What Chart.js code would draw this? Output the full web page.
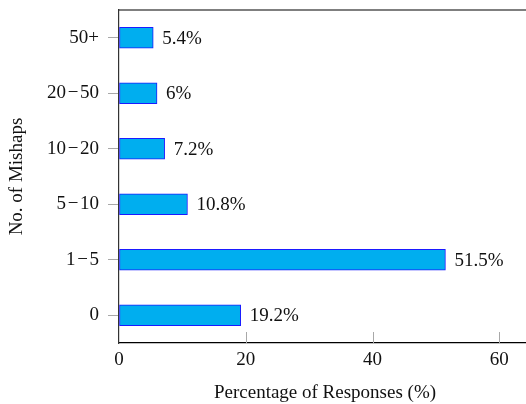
<!DOCTYPE html>
<html>
<head>
<meta charset="utf-8">
<script src="https://cdn.jsdelivr.net/npm/chart.js@4"></script>
<style>
  html, body { margin: 0; padding: 0; background: #fff; overflow: hidden; }
  #wrap { width: 526px; height: 404px; overflow: hidden; position: relative; }
  canvas { display: block; }
</style>
</head>
<body>
<div id="wrap"><canvas id="chart" width="531" height="404"></canvas></div>
<script>
// Survey responses: number of mishaps reported
const categories = ['0', '1\u200A\u2212\u200A5', '5\u200A\u2212\u200A10', '10\u200A\u2212\u200A20', '20\u200A\u2212\u200A50', '50+'];
const percentages = [19.2, 51.5, 10.8, 7.2, 6, 5.4];
const xTickValues = [0, 20, 40, 60];

const FONT = '"Liberation Serif", "Times New Roman", Times, serif';

// Small inward tick marks on the x axis plus the top frame line
const frameTicks = {
  id: 'frameTicks',
  afterDraw(chart) {
    const { ctx, chartArea, scales } = chart;
    const x = scales.x;
    ctx.save();
    ctx.strokeStyle = '#a8a8a8';
    ctx.lineWidth = 1;
    xTickValues.forEach(v => {
      if (v === 0) return;
      const px = Math.round(x.getPixelForValue(v)) + 0.5;
      ctx.beginPath();
      ctx.moveTo(px, chartArea.bottom);
      ctx.lineTo(px, chartArea.bottom - 11);
      ctx.stroke();
    });
    ctx.strokeStyle = '#000';
    ctx.lineWidth = 1.2;
    ctx.beginPath();
    ctx.moveTo(chartArea.left, chartArea.top);
    ctx.lineTo(chartArea.right + 5, chartArea.top);
    ctx.stroke();
    ctx.restore();
  }
};

// Percentage labels placed just past the end of each bar
const valueLabels = {
  id: 'valueLabels',
  afterDatasetsDraw(chart) {
    const { ctx } = chart;
    const meta = chart.getDatasetMeta(0);
    ctx.save();
    ctx.font = '19px ' + FONT;
    ctx.fillStyle = '#111';
    ctx.textAlign = 'left';
    ctx.textBaseline = 'middle';
    meta.data.forEach((bar, i) => {
      ctx.fillText(percentages[i] + '%', bar.x + 9, bar.y + 1);
    });
    ctx.restore();
  }
};

new Chart(document.getElementById('chart'), {
  type: 'bar',
  data: {
    labels: categories,
    datasets: [{
      data: percentages,
      backgroundColor: '#00AEEF',
      borderColor: '#1a1aff',
      borderWidth: 1,
      borderSkipped: false,
      barThickness: 21
    }]
  },
  options: {
    indexAxis: 'y',
    responsive: false,
    animation: false,
    layout: { padding: { top: 10, right: 0, left: 0, bottom: 0 } },
    plugins: {
      legend: { display: false },
      tooltip: { enabled: false }
    },
    scales: {
      x: {
        type: 'linear',
        min: 0,
        max: 65,
        afterBuildTicks(axis) {
          axis.ticks = xTickValues.map(v => ({ value: v }));
        },
        afterFit(axis) {
          axis.height = 61;
          axis.paddingLeft = 0;
          axis.paddingRight = 0;
        },
        grid: { drawOnChartArea: false, drawTicks: false },
        border: { display: true, color: '#000', width: 1.2 },
        ticks: {
          padding: 6,
          color: '#111',
          font: { family: FONT, size: 19 },
          maxRotation: 0
        },
        title: {
          display: true,
          text: 'Percentage of Responses (%)',
          color: '#111',
          font: { family: FONT, size: 19 },
          padding: { top: 8, bottom: 0 }
        }
      },
      y: {
        type: 'category',
        reverse: true,
        offset: true,
        afterFit(axis) {
          axis.width = 119;
          axis.paddingTop = 0;
          axis.paddingBottom = 0;
        },
        grid: {
          offset: false,
          drawOnChartArea: false,
          drawTicks: true,
          tickLength: 11,
          tickColor: '#a8a8a8',
          tickWidth: 1
        },
        border: { display: true, color: '#333', width: 1.2 },
        ticks: {
          padding: 9,
          color: '#111',
          font: { family: FONT, size: 19 }
        },
        title: {
          display: true,
          text: 'No. of Mishaps',
          color: '#111',
          font: { family: FONT, size: 19 },
          padding: { top: 6, bottom: 0 }
        }
      }
    }
  },
  plugins: [frameTicks, valueLabels]
});
</script>
</body>
</html>
